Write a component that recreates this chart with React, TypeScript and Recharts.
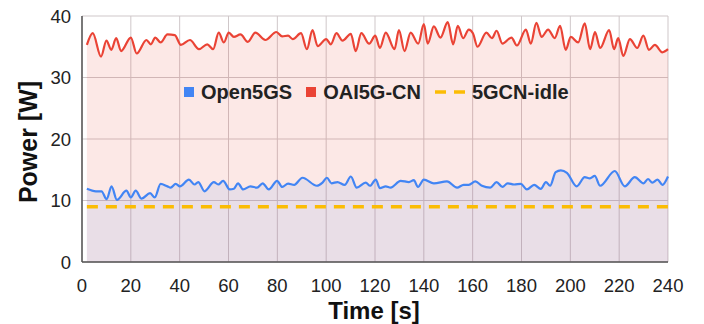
import React from "react";
import {
  ComposedChart,
  Area,
  Line,
  XAxis,
  YAxis,
  CartesianGrid,
  Legend,
  Label,
} from "recharts";

// Power traces (time in s, power in W)
const redTime = [
  2, 4.4, 7.8, 10, 12, 14, 16, 20, 22.4, 26.4, 28.2, 30, 32.2, 35, 38, 40.5,
  44.2, 47.9, 51.3, 53.7, 56, 58.1, 60.1, 62.2, 64.9, 67.9, 71, 75.1, 79.6,
  82, 84.4, 86.3, 89.7, 92.1, 94.4, 96.5, 100, 101.9, 104.2, 106.7, 110.1,
  112.1, 114.4, 117.6, 120.1, 122, 124.4, 128, 129.8, 132.1, 134.6, 137.7,
  140, 141.6, 144.1, 146.8, 149.8, 152, 153.9, 156.1, 158.4, 160.1, 162,
  165.6, 167.9, 169.8, 172.2, 175.9, 178.1, 181.8, 183.8, 186.1, 188.2,
  190.9, 193.6, 195.8, 198.1, 200.2, 203.2, 205.9, 208.1, 210.1, 212.2,
  215.9, 217.9, 219.6, 221.7, 224.4, 227.4, 229.9, 232.2, 234.6, 237.7, 240,
];
const redPower = [
  35.3, 37.2, 33.4, 36.0, 34.5, 36.4, 34.3, 36.5, 33.9, 36.1, 35.4, 36.5,
  35.7, 37.0, 36.9, 35.3, 36.1, 34.6, 35.4, 34.6, 37.3, 35.7, 37.3, 36.6,
  37.0, 35.8, 37.3, 36.1, 37.4, 36.7, 36.8, 36.25, 37.2, 34.6, 37.7, 35.1,
  36.25, 35.4, 37.2, 36.0, 37.1, 34.3, 37.2, 35.5, 36.8, 34.8, 37.3, 34.6,
  37.7, 34.3, 37.3, 35.5, 38.7, 35.5, 38.3, 36.5, 39.0, 35.4, 38.4, 36.4,
  37.8, 37.2, 35.0, 37.3, 36.4, 37.6, 35.5, 36.5, 35.2, 37.8, 35.5, 38.9,
  36.6, 37.8, 36.4, 38.4, 34.5, 36.6, 35.7, 38.8, 34.6, 37.4, 34.8, 37.7,
  34.6, 36.4, 33.5, 36.25, 34.8, 36.8, 34.5, 35.3, 34.1, 34.6,
];

const blueTime = [
  2, 5.7, 8, 10.1, 12.1, 14.3, 18.2, 20, 22, 24.4, 27.9, 29.8, 32.2, 35,
  36.3, 38.4, 40.1, 43.8, 46.1, 47.6, 50.2, 54, 55.8, 57.8, 60.5, 62.2, 63.9,
  66, 69, 71.7, 74, 76.5, 79.9, 82, 84.4, 86.9, 90.3, 96.2, 98.5, 100.3,
  102.2, 104.6, 107.6, 110.1, 112.5, 116.2, 118, 120.3, 122, 124.4, 126.4,
  130.5, 133.9, 135.9, 137.6, 140, 144.1, 149.5, 153.6, 156.3, 158.4, 161.1,
  163.8, 167.2, 169.8, 172.2, 174.3, 177, 179.7, 182.2, 185.2, 187.9, 190,
  191.7, 194, 196.1, 198.6, 202.6, 205.9, 208, 210, 212.2, 218.2, 222.3,
  226.4, 230, 231.8, 233.6, 235.7, 237.7, 240,
];
const bluePower = [
  11.9, 11.5, 11.5, 10.2, 12.3, 10.1, 11.6, 10.5, 11.6, 10.3, 11.2, 10.5,
  12.7, 12.3, 12.1, 12.7, 12.3, 13.4, 12.6, 13.0, 11.5, 13.0, 12.6, 13.2,
  11.8, 11.9, 12.8, 11.8, 12.3, 12.1, 12.8, 11.8, 13.2, 12.2, 12.75, 12.55,
  13.7, 12.4, 12.9, 13.7, 12.8, 13.0, 12.55, 13.9, 12.1, 12.9, 12.4, 13.4,
  12.0, 12.3, 12.1, 13.2, 13.0, 13.3, 12.2, 13.4, 12.8, 13.1, 12.1, 12.55,
  12.55, 13.1, 12.4, 12.1, 13.0, 12.2, 12.8, 12.6, 12.7, 11.8, 12.55, 11.9,
  13.0, 12.4, 14.6, 14.9, 14.5, 12.3, 13.8, 13.6, 14.0, 12.4, 14.8, 12.3,
  13.8, 12.8, 13.5, 12.9, 13.4, 12.55, 13.9,
];

const idleTime = [2, 240];
const idlePower = [9, 9];

const xTicks = [0, 20, 40, 60, 80, 100, 120, 140, 160, 180, 200, 220, 240];
const yTicks = [0, 10, 20, 30, 40];

const RED = "#EA4335";
const BLUE = "#4285F4";
const YELLOW = "#FBBC04";
const FONT = "'Liberation Sans', Arial, sans-serif";

const toRows = (ts: number[], ws: number[]) =>
  ts.map((t, i) => ({ t, w: ws[i] }));

const redData = toRows(redTime, redPower);
const blueData = toRows(blueTime, bluePower);
const idleData = toRows(idleTime, idlePower);

function LegendBox() {
  const item = { display: "flex", alignItems: "center", marginRight: 14 };
  const text = { fontWeight: 700, fontSize: 20, color: "#222", marginLeft: 7 };
  return (
    <div style={{ display: "flex", fontFamily: FONT, lineHeight: "24px", height: 24 }}>
      <div style={item}>
        <span style={{ width: 10, height: 10, background: BLUE }} />
        <span style={text}>Open5GS</span>
      </div>
      <div style={item}>
        <span style={{ width: 10, height: 10, background: RED }} />
        <span style={text}>OAI5G-CN</span>
      </div>
      <div style={item}>
        <svg width={30} height={4}>
          <line x1={0} y1={2} x2={30} y2={2} stroke={YELLOW} strokeWidth={3.5} strokeDasharray="11 8" />
        </svg>
        <span style={text}>5GCN-idle</span>
      </div>
    </div>
  );
}

export default function App() {
  return (
    <div style={{ position: "absolute", left: 0, top: 0, background: "#fff" }}>
      <ComposedChart
        width={704}
        height={324}
        margin={{ top: 16, right: 36, bottom: 0, left: 0 }}
        style={{ fontFamily: FONT }}
      >
        <CartesianGrid stroke="#cfc7c9" strokeWidth={1} />
        <XAxis
          dataKey="t"
          type="number"
          domain={[0, 240]}
          ticks={xTicks}
          interval={0}
          height={62}
          tickLine={false}
          tickMargin={11}
          axisLine={{ stroke: "#555", strokeWidth: 1.5 }}
          tick={{ fontSize: 18.5, fill: "#222" }}
          allowDuplicatedCategory={false}
        >
          <Label
            content={() => (
              <text x={374} y={310} textAnchor="middle" dominantBaseline="central"
                fontSize={24} fontWeight={700} fill="#111" fontFamily={FONT}>
                Time [s]
              </text>
            )}
          />
        </XAxis>
        <YAxis
          type="number"
          domain={[0, 40]}
          ticks={yTicks}
          width={82}
          tickLine={false}
          tickMargin={5}
          axisLine={{ stroke: "#555", strokeWidth: 1.5 }}
          tick={{ fontSize: 18.5, fill: "#222" }}
        >
          <Label
            content={() => (
              <text x={28} y={142} transform="rotate(-90 28 142)" textAnchor="middle"
                dominantBaseline="central" fontSize={25} fontWeight={700} fill="#111" fontFamily={FONT}>
                Power [W]
              </text>
            )}
          />
        </YAxis>
        <Legend
          verticalAlign="top"
          content={() => <LegendBox />}
          wrapperStyle={{ top: 80, left: 184, width: "auto", height: 0, overflow: "visible" }}
        />
        <Area
          data={redData}
          dataKey="w"
          type="monotone"
          stroke={RED}
          strokeWidth={2.2}
          fill={RED}
          fillOpacity={0.12}
          dot={false}
          isAnimationActive={false}
        />
        <Area
          data={blueData}
          dataKey="w"
          type="monotone"
          stroke={BLUE}
          strokeWidth={2.2}
          fill={BLUE}
          fillOpacity={0.1}
          dot={false}
          isAnimationActive={false}
        />
        <Line
          data={idleData}
          dataKey="w"
          stroke={YELLOW}
          strokeWidth={3.5}
          strokeDasharray="11 8"
          dot={false}
          isAnimationActive={false}
        />
      </ComposedChart>
    </div>
  );
}
